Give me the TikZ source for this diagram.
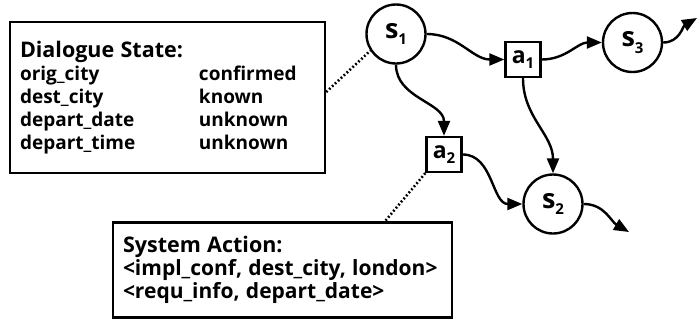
\documentclass[tikz,border=0pt]{standalone}
\usepackage{fontspec}
\setsansfont{Open Sans}
\usepackage{tikz}
\usetikzlibrary{arrows.meta}
\newcommand{\nodelbl}[2]{#1\raisebox{-0.25em}{\fontsize{15}{15}\selectfont #2}}
\newcommand{\slotrow}[2]{\makebox[179pt][l]{#1}#2}
\newcommand{\boxtitle}[1]{{\fontsize{21.5}{23}\selectfont #1}}
\newcommand{\actline}[1]{\mbox{\fontsize{21}{23}\selectfont #1}}

\begin{document}
\begin{tikzpicture}[
  x=1pt, y=1pt,
  state/.style={draw, circle, line width=2.4pt, minimum size=59pt, inner sep=0pt,
                font=\sffamily\bfseries\fontsize{27}{27}\selectfont},
  act/.style={draw, rectangle, line width=2.4pt, minimum width=35pt,
              minimum height=35pt, inner sep=0pt,
              font=\sffamily\bfseries\fontsize{23}{23}\selectfont},
  info/.style={draw, rectangle, line width=2.4pt, inner xsep=10pt, inner ysep=0pt,
               align=left, font=\sffamily\bfseries\fontsize{19}{23}\selectfont},
  arr/.style={-{Triangle[length=15pt,width=12pt]}, line width=2.4pt},
  link/.style={line width=2.6pt, dash pattern=on 1.8pt off 2.2pt}
]
\useasboundingbox (0,0) rectangle (697,-325);

% Nodes
\node[state] (s1) at (396,-34) {\nodelbl{s}{1}};
\node[state] (s3) at (632.5,-42.5) {\nodelbl{s}{3}};
\node[state] (s2) at (553,-204) {\nodelbl{s}{2}};
\node[act] (a1) at (523,-59.5) {\nodelbl{a}{1}};
\node[act] (a2) at (444,-154.5) {\nodelbl{a}{2}};

\coordinate (out3) at (697,-18);
\coordinate (out2) at (629,-232);

% Info boxes
\node[info, text width=295pt, minimum height=151pt] (statebox) at (167.5,-97.5) {%
  \boxtitle{Dialogue State:}\\
  \slotrow{orig\_city}{confirmed}\\
  \slotrow{dest\_city}{known}\\
  \slotrow{depart\_date}{unknown}\\
  \slotrow{depart\_time}{unknown}};
\node[info, text width=319pt, minimum height=95pt] (actionbox) at (282.5,-270) {%
  \boxtitle{System Action:}\\
  \actline{<impl\_conf, dest\_city, london>}\\
  \actline{<requ\_info, depart\_date>}};

% Transitions
\draw[arr] (s1.east) to[out=0, in=180] (a1.west);
\draw[arr] (a1.east) to[out=0, in=180] (s3.west);
\draw[arr] (s3.east) to[out=0, in=210] (out3);
\draw[arr] (s1.south) to[out=-90, in=90] (a2.north);
\draw[arr] (a1.south) to[out=-90, in=90] (s2.north);
\draw[arr] (a2.east) to[out=0, in=180] (s2.west);
\draw[arr] (s2.east) to[out=0, in=150] (out2);

% Annotation links
\draw[link] ([yshift=5.5pt]statebox.east) -- (s1.213);
\draw[link] (a2.south west) -- ([xshift=102.5pt]actionbox.north);

\end{tikzpicture}
\end{document}
